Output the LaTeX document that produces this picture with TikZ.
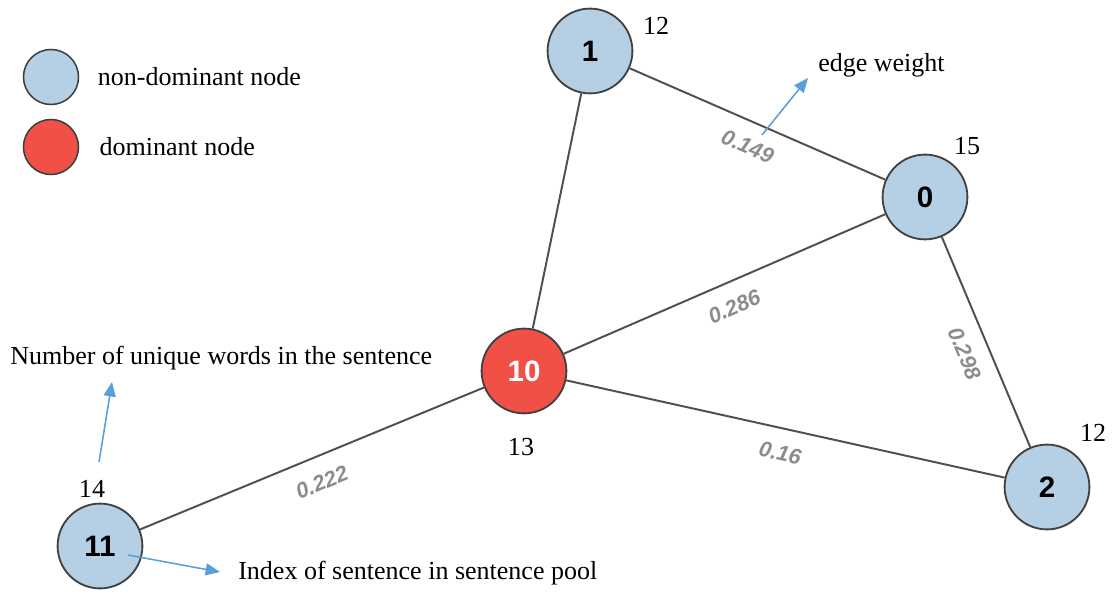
\documentclass[tikz,border=0pt]{standalone}
\usepackage{fontspec}
\setmainfont{Liberation Serif}
\setsansfont{Liberation Sans}
\usetikzlibrary{arrows.meta}
\definecolor{sentblue}{RGB}{181,208,228}
\definecolor{sentred}{RGB}{240,80,70}
\definecolor{ptrblue}{RGB}{92,158,214}
\definecolor{linkgray}{RGB}{80,80,80}
\definecolor{weightgray}{RGB}{140,140,140}
\tikzstyle{sentence} = [circle, draw=black!75, line width=1.3pt, fill=sentblue, minimum size=2.12cm, inner sep=0pt, font=\sffamily\bfseries\fontsize{21}{21}\selectfont]
\tikzstyle{dominant} = [sentence, fill=sentred, text=white]
\tikzstyle{legendkey} = [circle, draw=black!75, line width=1.1pt, minimum size=1.375cm, inner sep=0pt]
\tikzstyle{link} = [draw=linkgray, line width=1.4pt]
\tikzstyle{weight} = [font=\sffamily\bfseries\itshape\fontsize{15.5}{15.5}\selectfont, text=weightgray, inner sep=0pt]
\tikzstyle{pointer} = [draw=ptrblue, line width=1.1pt, -{Triangle[length=0.36cm, width=0.3cm]}]
\tikzstyle{caption} = [font=\fontsize{18.5}{22}\selectfont, inner sep=0pt]
\tikzstyle{count} = [caption, anchor=base]

\begin{document}
\begin{tikzpicture}[x=0.025cm, y=0.025cm]
		\useasboundingbox (0,0) rectangle (1112,593);

		\node[legendkey, fill=sentblue](keyblue) at (51,516) {};
		\node[legendkey, fill=sentred](keyred) at (51,446) {};
		\node[caption, right=0.46cm] (keybluetext) at (keyblue.east) {non-dominant node};
		\node[caption, right=0.5cm] (keyredtext) at (keyred.east) {dominant node};

		\node[sentence](s1) at (590,542) {1};
		\node[sentence](s0) at (925,396) {0};
		\node[dominant](s10) at (524,222) {10};
		\node[sentence](s11) at (100,47) {11};
		\node[sentence](s2) at (1047,106) {2};

		\node[count](c1) at (656,558) {12};
		\node[count](c0) at (967,438) {15};
		\node[count](c10) at (521,138) {13};
		\node[count](c11) at (92,96) {14};
		\node[count](c2) at (1093,151) {12};

		\draw[link] (s1) -- (s0) node[weight, midway, sloped, below=0.4cm] {0.149};
		\draw[link] (s1) -- (s10);
		\draw[link] (s10) -- (s0) node[weight, midway, sloped, below=0.4cm] {0.286};
		\draw[link] (s0) -- (s2) node[weight, pos=0.51, sloped, below=0.38cm] {0.298};
		\draw[link] (s10) -- (s2) node[weight, midway, sloped, below=0.4cm] {0.16};
		\draw[link] (s11) -- (s10) node[weight, midway, sloped, below=0.43cm] {0.222};

		\node[caption, anchor=base west](weighttext) at (818,521) {edge weight};
		\node[caption, anchor=base west](wordstext) at (10,228) {Number of unique words in the sentence};
		\node[caption, anchor=base west](indextext) at (238,14) {Index of sentence in sentence pool};

		\coordinate (wfrom) at (762,458);
		\coordinate (wto) at (808,515);
		\coordinate (nfrom) at (99,131);
		\coordinate (nto) at (112,211);
		\coordinate (ifrom) at (128,38);
		\coordinate (ito) at (220,21);
		\draw[pointer] (wfrom) -- (wto);
		\draw[pointer] (nfrom) -- (nto);
		\draw[pointer] (ifrom) -- (ito);
	\end{tikzpicture}
\end{document}
